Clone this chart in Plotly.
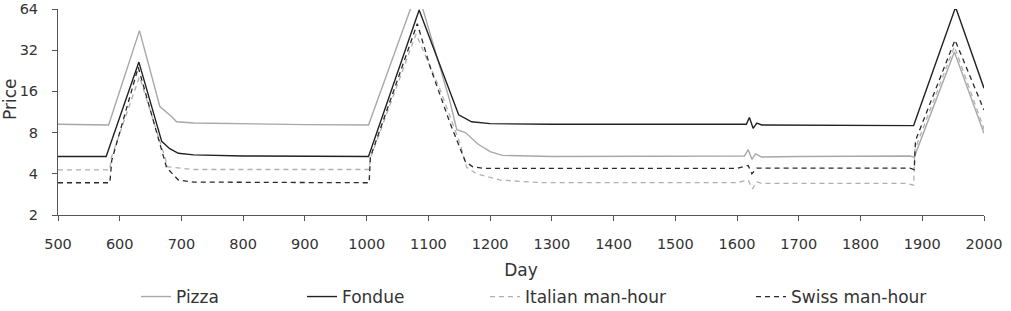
import plotly.graph_objects as go

# ---- data ----
pizza_day = [500, 540, 580, 582, 632, 665, 684, 692, 720, 800, 900, 1003,
             1082, 1134, 1146, 1160, 1180, 1200, 1220, 1300, 1500, 1612, 1618,
             1624, 1630, 1640, 1700, 1880, 1887, 1952, 2000]
pizza_price = [9.2, 9.1, 9.1, 9.1, 44.5, 12.4, 10.5, 9.6, 9.4, 9.25, 9.15, 9.1,
               88, 14, 8.4, 8.0, 6.6, 5.8, 5.45, 5.35, 5.35, 5.4, 6.0,
               5.1, 5.6, 5.3, 5.35, 5.4, 5.3, 31, 7.9]

fondue_day = [500, 578, 631, 668, 681, 695, 720, 800, 1003, 1085, 1149, 1170,
              1200, 1300, 1615, 1620, 1626, 1632, 1640, 1880, 1886, 1954, 2000]
fondue_price = [5.35, 5.35, 26.2, 6.9, 6.1, 5.65, 5.5, 5.4, 5.35, 63, 10.8, 9.6,
                9.3, 9.2, 9.2, 10.3, 8.6, 9.4, 9.1, 9.1, 9.0, 66, 16.9]

italian_day = [500, 584, 586, 632, 678, 697, 720, 1004, 1006, 1080, 1119, 1151,
               1162, 1178, 1216, 1280, 1600, 1618, 1625, 1632, 1640, 1875, 1886,
               1888, 1952, 2000]
italian_price = [4.28, 4.28, 5.2, 20.5, 4.5, 4.4, 4.3, 4.3, 5.2, 42, 16.5, 6.7,
                 4.46, 4.0, 3.6, 3.45, 3.45, 3.6, 3.1, 3.5, 3.4, 3.4, 3.3,
                 6.0, 34, 8.5]

swiss_day = [500, 584, 587, 630, 676, 695, 720, 1004, 1006, 1082, 1103, 1135,
             1160, 1172, 1190, 1600, 1618, 1624, 1632, 1880, 1887, 1889, 1953, 2000]
swiss_price = [3.44, 3.44, 5.0, 24, 4.43, 3.6, 3.48, 3.44, 5.3, 50, 24, 9.4,
               4.9, 4.5, 4.38, 4.38, 4.6, 4.0, 4.4, 4.4, 4.3, 7.0, 38, 11.7]

x_ticks = list(range(500, 2001, 100))
y_ticks = [2, 4, 8, 16, 32, 64]

FONT = "DejaVu Sans"
TXT = "#333333"

fig = go.Figure()
fig.add_trace(go.Scatter(x=pizza_day, y=pizza_price, mode="lines", name="Pizza",
                         line=dict(color="#a8a8a8", width=1.4), legend="legend",
                         showlegend=True))
fig.add_trace(go.Scatter(x=fondue_day, y=fondue_price, mode="lines", name="Fondue",
                         line=dict(color="#222222", width=1.4), legend="legend2",
                         showlegend=True))
fig.add_trace(go.Scatter(x=italian_day, y=italian_price, mode="lines", name="Italian man-hour",
                         line=dict(color="#b0b0b0", width=1.3, dash="5px,4px"), legend="legend3",
                         showlegend=True))
fig.add_trace(go.Scatter(x=swiss_day, y=swiss_price, mode="lines", name="Swiss man-hour",
                         line=dict(color="#2a2a2a", width=1.3, dash="5px,4px"), legend="legend4",
                         showlegend=True))

L, R, T, B = 58, 27, 9, 96
W, H = 1011, 311
pw = W - L - R
ph = H - T - B

def px_x(p):
    return (p - L) / pw

def px_y(p):
    return (H - B - p) / ph

leg_common = dict(orientation="h", yanchor="middle", xanchor="left",
                  font=dict(family=FONT, size=17, color=TXT),
                  bgcolor="rgba(0,0,0,0)", borderwidth=0, visible=True)

fig.update_layout(
    width=W, height=H,
    showlegend=True,
    margin=dict(l=L, r=R, t=T, b=B, autoexpand=False),
    paper_bgcolor="white", plot_bgcolor="white",
    font=dict(family=FONT, color=TXT),
    legend=dict(x=px_x(136), y=px_y(297), **leg_common),
    legend2=dict(x=px_x(302), y=px_y(297), **leg_common),
    legend3=dict(x=px_x(485), y=px_y(297), **leg_common),
    legend4=dict(x=px_x(751), y=px_y(297), **leg_common),
    xaxis=dict(range=[500, 2000], tickvals=x_ticks, ticks="outside", ticklen=5,
               tickcolor="#555", linecolor="#555", linewidth=1, showline=True,
               showgrid=False, zeroline=False, tickfont=dict(size=14.5, family=FONT, color=TXT),
               ticklabelstandoff=11,
               title=dict(text="Day", font=dict(size=17, family=FONT, color=TXT), standoff=12),
               automargin=False),
    yaxis=dict(type="log", range=[0.30103, 1.80618], tickvals=y_ticks,
               ticktext=[str(v) for v in y_ticks], ticks="outside", ticklen=5,
               tickcolor="#555", linecolor="#555", linewidth=1, showline=True,
               showgrid=False, zeroline=False, tickfont=dict(size=14.5, family=FONT, color=TXT),
               ticklabelstandoff=11, automargin=False),
    annotations=[dict(text="Price", textangle=-90, xref="paper", yref="paper",
                      x=px_x(10), y=px_y(100), xanchor="center", yanchor="middle",
                      showarrow=False, font=dict(size=17, family=FONT, color=TXT))],
)

fig.write_html("out.html")
